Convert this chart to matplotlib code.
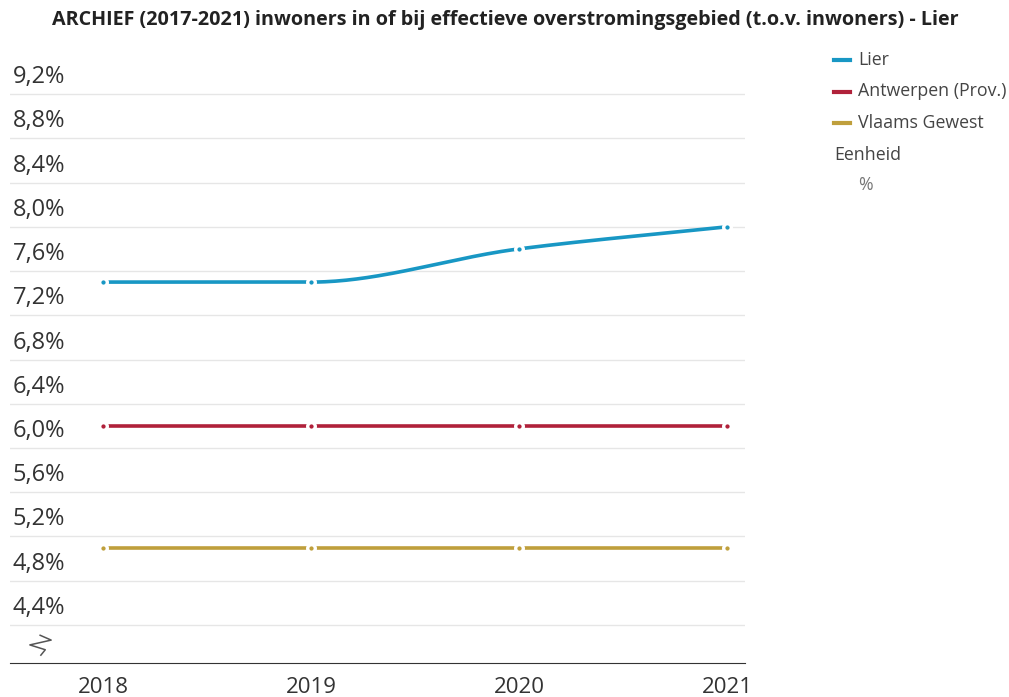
import numpy as np
import matplotlib.pyplot as plt

# data (percent)
years = [2018, 2019, 2020, 2021]
lier = [7.5, 7.5, 7.8, 8.0]
antwerpen = [6.2, 6.2, 6.2, 6.2]
vlaanderen = [5.1, 5.1, 5.1, 5.1]
series_names = ['Lier', 'Antwerpen (Prov.)', 'Vlaams Gewest']
y_ticks = [4.4, 4.8, 5.2, 5.6, 6.0, 6.4, 6.8, 7.2, 7.6, 8.0, 8.4, 8.8, 9.2]

colors = ['#1897c4', '#b0213a', '#bf9f3c']
plt.rcParams['font.family'] = ['Open Sans', 'DejaVu Sans']


def monotone(x, y, n=60):
    # monotone cubic (Fritsch-Carlson) for smooth line drawing
    x = np.asarray(x, float)
    y = np.asarray(y, float)
    h = np.diff(x)
    d = np.diff(y) / h
    m = np.zeros_like(y)
    m[0], m[-1] = d[0], d[-1]
    for i in range(1, len(y) - 1):
        if d[i - 1] * d[i] <= 0:
            m[i] = 0
        else:
            m[i] = 2 / (1 / d[i - 1] + 1 / d[i])
    xs, ys = [], []
    for i in range(len(h)):
        t = np.linspace(0, 1, n)
        h00 = 2 * t**3 - 3 * t**2 + 1
        h10 = t**3 - 2 * t**2 + t
        h01 = -2 * t**3 + 3 * t**2
        h11 = t**3 - t**2
        xs.append(x[i] + t * h[i])
        ys.append(h00 * y[i] + h10 * h[i] * m[i] + h01 * y[i + 1] + h11 * h[i] * m[i + 1])
    return np.concatenate(xs), np.concatenate(ys)


fig = plt.figure(figsize=(10.09, 6.97), dpi=100)
ax = fig.add_axes([10 / 1009, 1 - 663 / 697, 735 / 1009, 603 / 697])
ax.set_xlim(2017.553, 2021.087)
ax.set_ylim(4.056, 9.508)

for v in y_ticks:
    ax.axhline(v, color='#e6e6e6', lw=1, zorder=0)
    ax.text(0.004, v + 0.045, ('%.1f%%' % v).replace('.', ','), transform=ax.get_yaxis_transform(),
            ha='left', va='bottom', fontsize=17, color='#333333')

for vals, c in zip([lier, antwerpen, vlaanderen], colors):
    sx, sy = monotone(years, vals)
    ax.plot(sx, sy, color=c, lw=2.6, solid_capstyle='butt', zorder=3)
    ax.plot(years, vals, 'o', color=c, ms=5.5, mec='white', mew=2.4, zorder=4)

# axis break marker
ax.plot([0.041, 0.056, 0.027, 0.048, 0.042], [0.046, 0.038, 0.030, 0.022, 0.013],
        transform=ax.transAxes, color='#555555', lw=1.1, clip_on=False)

for s in ['top', 'right', 'left']:
    ax.spines[s].set_visible(False)
ax.spines['bottom'].set_color('#333333')
ax.set_yticks([])
ax.set_xticks(years)
ax.set_xticklabels([str(y) for y in years], fontsize=16, color='#333333')
ax.tick_params(axis='x', length=0, pad=10)

fig.text(505 / 1009, 1 - 20 / 697, 'ARCHIEF (2017-2021) inwoners in of bij effectieve overstromingsgebied (t.o.v. inwoners) - Lier',
         ha='center', va='center', fontsize=14.2, fontweight='bold', color='#222222')

# legend
for i, (name, c) in enumerate(zip(series_names, colors)):
    yy = 1 - (60 + 31.5 * i) / 697
    fig.add_artist(plt.Line2D([834 / 1009, 850 / 1009], [yy, yy], color=c, lw=3, transform=fig.transFigure))
    fig.text(858 / 1009, yy, name, ha='left', va='center', fontsize=12.8, color='#444444')
fig.text(834 / 1009, 1 - 155 / 697, 'Eenheid', ha='left', va='center', fontsize=12.8, color='#444444')
fig.text(858 / 1009, 1 - 185 / 697, '%', ha='left', va='center', fontsize=12.8, color='#777777')

fig.savefig('out.png', dpi=100)
